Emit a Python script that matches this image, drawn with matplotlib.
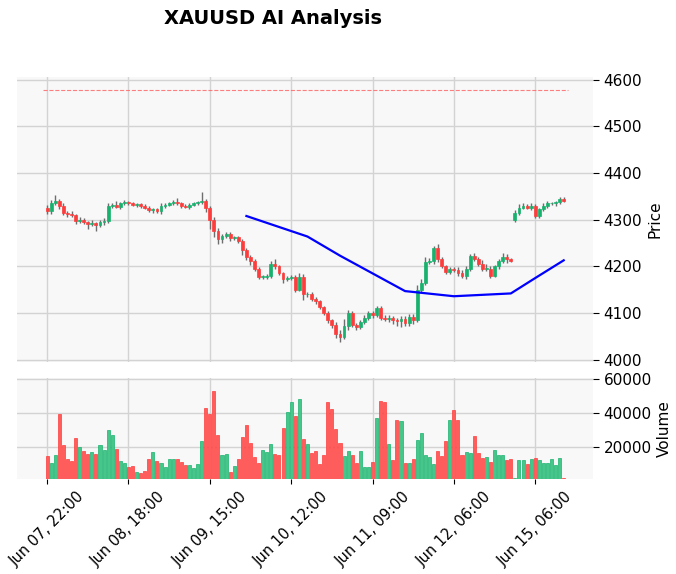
import matplotlib
matplotlib.use("Agg")
import matplotlib.pyplot as plt
import numpy as np

closes = [4318,4335,4340,4330,4315,4312,4310,4298,4300,4295,4290,4292,4288,4295,4298,4330,4332,4328,4335,4338,
          4335,4332,4333,4330,4325,4320,4322,4318,4330,4332,4335,4338,4335,4330,4328,4332,4335,4338,4340,4325,
          4300,4275,4258,4265,4270,4260,4262,4255,4235,4220,4212,4195,4178,4178,4180,4205,4200,4185,4172,4175,
          4178,4150,4178,4140,4140,4130,4125,4112,4100,4085,4075,4055,4048,4072,4100,4075,4070,4080,4090,4100,
          4095,4110,4090,4087,4090,4085,4082,4088,4078,4092,4085,4150,4165,4210,4212,4240,4215,4200,4188,4195,
          4192,4185,4180,4195,4222,4215,4205,4195,4195,4180,4200,4212,4220,4215,4212,
          4315,4325,4330,4325,4330,4308,4322,4330,4335,4335,4337,4345,4340]
opens = [4325] + closes[:-1]
opens[115] = 4300
wick_hi = [6,8,12,4,5,4,6,3,5,4,3,8,3,4,5,6,4,8,3,4,3,4,3,3,4,4,3,4,5,3,3,5,8,4,4,3,4,3,20,5,
           4,6,8,5,4,4,3,4,3,5,4,4,3,3,4,6,10,4,3,4,3,4,8,5,4,5,4,3,3,4,3,5,8,15,6,4,4,5,6,4,
           4,4,5,5,6,4,4,5,5,6,5,10,8,10,6,4,8,5,4,3,4,6,8,6,4,6,5,8,10,6,4,3,8,6,3,
           5,8,5,4,5,4,4,5,6,4,4,4,4]
wick_lo = [6,5,4,8,5,6,4,8,4,4,10,4,12,4,6,4,5,3,4,3,3,3,4,4,3,4,5,3,5,4,3,3,4,4,3,4,3,3,4,8,
           20,12,10,8,4,6,4,4,10,6,8,4,5,4,4,4,5,4,8,4,5,4,3,12,5,4,6,4,5,6,8,8,10,4,8,6,6,4,4,4,
           5,4,5,5,6,8,10,12,6,5,8,4,4,4,5,6,6,4,5,4,4,5,5,6,4,4,4,5,4,4,3,5,4,8,3,
           4,4,3,3,5,5,4,3,4,4,6,3,3]
volumes = [14700,10400,15300,39400,21200,13000,11800,25100,20000,17700,15900,17300,15900,21200,18300,30000,27100,18800,11800,10400,
           8500,8800,5300,4500,5900,13000,17100,11800,10400,8300,13000,13000,13000,11200,9400,9400,7700,10000,23500,43000,
           39400,53000,27100,15300,15900,5300,8800,13000,25900,33000,22400,14100,10600,18300,17100,21800,15900,15300,31200,40600,
           46500,38200,48200,24700,21800,16500,17700,10000,15300,46500,42400,30600,22400,14700,17700,15300,10600,17700,8500,8500,
           11400,36900,47300,46700,21600,12200,35700,35100,10600,10600,12900,24100,28200,15100,14100,10000,17700,14700,23300,35700,
           42000,35700,15300,17100,16500,26700,16500,13500,14100,11200,18000,15300,15300,12500,12900,
           2000,12500,12500,10000,12900,13500,12500,10400,10600,12900,9200,13500,2000]
tick_pos = [0,20,40,60,80,100,120]
tick_labels = ["Jun 07, 22:00","Jun 08, 18:00","Jun 09, 15:00","Jun 10, 12:00","Jun 11, 09:00","Jun 12, 06:00","Jun 15, 06:00"]
ai_x = [49,64,72,80,88,100,114,120,127]
ai_y = [4308,4264,4223,4185,4147,4136,4142,4175,4213]
target_level = 4578

up_c, dn_c = "#17b26e", "#ff3c3c"
vup_c, vdn_c = "#47c68a", "#ff5c5c"
bg = "#f8f8f8"; gridc = "#d3d3d3"

W, H = 676, 574
fig = plt.figure(figsize=(W/100, H/100), dpi=100)
ax = fig.add_axes([17/W, 1-362/H, (593-17)/W, (362-77)/H])
axv = fig.add_axes([17/W, 1-479/H, (593-17)/W, (479-378)/H], sharex=ax)
n = len(closes)
x = np.arange(n)
for a in (ax, axv):
    a.set_facecolor(bg)
    a.grid(True, color=gridc, lw=1)
    a.set_axisbelow(True)
    for s in a.spines.values():
        s.set_visible(False)
    a.yaxis.tick_right()
    a.yaxis.set_label_position("right")
    a.tick_params(axis="y", labelsize=11, length=4)

for i in range(n):
    o, c = opens[i], closes[i]
    col = up_c if c >= o else dn_c
    hi = max(o, c) + wick_hi[i]; lo = min(o, c) - wick_lo[i]
    ax.vlines(x[i], lo, hi, color="#6e6e6e", lw=1, zorder=2)
    h = abs(c - o) if abs(c - o) > 1 else 1.5
    ax.bar(x[i], h, bottom=min(o, c), width=0.7, color=col, edgecolor=col, lw=0.5, zorder=3)
    axv.bar(x[i], volumes[i], width=0.75, color=vup_c if c >= o else vdn_c,
            edgecolor=up_c if c >= o else dn_c, lw=0.5, zorder=3)

ax.plot(ai_x, ai_y, color="blue", lw=1.6, zorder=4)
ax.hlines(target_level, -1, 128, colors="#ff6060", linestyles="--", lw=0.8, alpha=0.8, zorder=2)

ax.set_xlim(-7.4, 134.2)
ax.set_ylim(3995, 4606)
ax.set_yticks([4000,4100,4200,4300,4400,4500,4600])
ax.set_ylabel("Price", fontsize=11)
plt.setp(ax.get_xticklabels(), visible=False)
ax.tick_params(axis="x", length=0)

axv.set_ylim(1200, 60600)
axv.set_yticks([20000,40000,60000])
axv.set_ylabel("Volume", fontsize=11)
axv.set_xticks(tick_pos)
axv.set_xticklabels(tick_labels, rotation=45, ha="center", fontsize=10.5)

fig.text(273/W, 1-18/H, "XAUUSD AI Analysis", ha="center", va="center", fontsize=14, fontweight="bold")
fig.savefig("out.png", dpi=100)
